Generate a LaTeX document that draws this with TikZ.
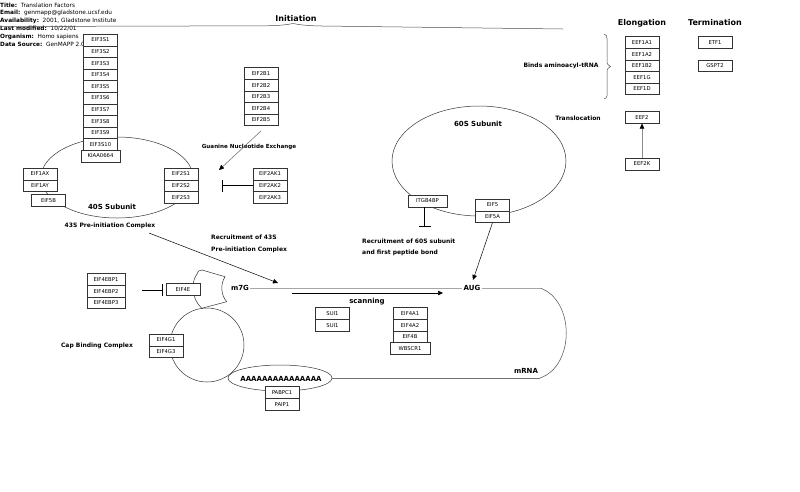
\documentclass[tikz,border=0pt]{standalone}
\usepackage{fontspec}
\setmainfont{DejaVu Sans}
\usetikzlibrary{arrows.meta}
\begin{document}
\begin{tikzpicture}[x=1pt,y=-1pt,
  gene/.style={draw=black!80, fill=white, line width=0.5pt, minimum width=34pt, minimum height=11.6pt, inner sep=0pt, font=\fontsize{5.3}{6}\selectfont},
  wgene/.style={gene, minimum width=39pt},
  lbl/.style={font=\bfseries\fontsize{6}{7}\selectfont, inner sep=0pt},
  mlbl/.style={font=\bfseries\fontsize{7}{8}\selectfont, inner sep=0pt},
  big/.style={font=\bfseries\fontsize{8}{9}\selectfont, inner sep=0pt},
  hdr/.style={font=\fontsize{5.8}{6.5}\selectfont, inner sep=0pt, anchor=west},
  ln/.style={line width=0.5pt},
  arr/.style={line width=0.5pt, -{Triangle[length=5pt,width=4.5pt,color=black]}},
  inh/.style={line width=0.5pt, -{Bar[width=12pt,line width=0.7pt]}},
]
\useasboundingbox (0,0) rectangle (800,491);

% header
\begin{scope}
\clip (0,0) rectangle (117,50);
\node[hdr] (title) at (0,5) {\textbf{Title:}\ \ Translation Factors};
\node[hdr] (email) at (0,13) {\textbf{Email:}\ \ genmapp@gladstone.ucsf.edu};
\node[hdr] (avail) at (0,21) {\textbf{Availability:}\ \ 2001, Gladstone Institute};
\node[hdr] (lastmod) at (0,29) {\textbf{Last modified:}\ \ 10/22/01};
\node[hdr] (organism) at (0,37) {\textbf{Organism:}\ \ Homo sapiens};
\node[hdr] (datasrc) at (0,44) {\textbf{Data Source:}\ \ GenMAPP 2.0};
\end{scope}

% section headings and braces
\node[big] (initiation) at (296,19) {Initiation};
\node[big] (elongation) at (642,23) {Elongation};
\node[big] (termination) at (715,23) {Termination};
\draw[ln, black!70] (0,26.5) -- (263,25.8) .. controls (280,25.8) and (288,24.5) .. (293,23.5)
  .. controls (298,24.5) and (306,25.8) .. (322,26) -- (563,29);
\draw[ln, black!70] (604,34) .. controls (608,35) and (607,40) .. (607,48) -- (607,60)
  .. controls (607,64) .. (610.5,66.5) .. controls (607,69) .. (607,73) -- (607,87)
  .. controls (607,95) and (608,98) .. (604,99);

% shapes
\draw[ln, black!80] (117,177.5) ellipse [x radius=76, y radius=40.5];
\draw[ln, black!80] (479,161) ellipse [x radius=87, y radius=55];
\draw[ln, black!80] (207,345) circle [radius=37];
\draw[ln, black!80] (280,378) ellipse [x radius=52, y radius=13];
\draw[ln, black!80] (201.7,308.3) .. controls (191,298) and (191,282) .. (197,274)
  .. controls (198,271) .. (202,270) -- (225,276.7)
  .. controls (220,285) and (221,295) .. (226.7,301.7) -- cycle;

% mRNA
\node[mlbl, fill=white, inner sep=1pt] (m7G) at (240,288) {m7G};
\node[mlbl, fill=white, inner sep=1pt] (AUG) at (472,288) {AUG};
\coordinate (mr1) at (540,288);
\coordinate (mr2) at (540,378);
\draw[ln, black!35] (m7G.east) -- (AUG.west);
\draw[ln, black!35] (AUG.east) -- (mr1);
\draw[ln, black!70] (mr1) .. controls (575,300) and (575,366) .. (mr2);
\draw[ln, black!55] (mr2) -- (332,378);
\node[mlbl] (mRNA) at (526,371) {mRNA};
\node[mlbl] (polyA) at (281,379) {AAAAAAAAAAAAAAA};

% EIF3 stack
\foreach \n [count=\i] in {EIF3S1,EIF3S2,EIF3S3,EIF3S4,EIF3S5,EIF3S6,EIF3S7,EIF3S8,EIF3S9,EIF3S10}
  \node[gene] (\n) at (100.5,28.4+11.6*\i) {\n};
\node[wgene] (KIAA0664) at (100.5,156) {KIAA0664};

% EIF2B stack
\foreach \n [count=\i] in {EIF2B1,EIF2B2,EIF2B3,EIF2B4,EIF2B5}
  \node[gene] (\n) at (261,61.9+11.6*\i) {\n};

\node[gene] (EIF1AX) at (40,174) {EIF1AX};
\node[gene] (EIF1AY) at (40,185.6) {EIF1AY};
\node[gene] (EIF5B) at (48.5,200.5) {EIF5B};

\foreach \n [count=\i] in {EIF2S1,EIF2S2,EIF2S3}
  \node[gene] (\n) at (181,162.4+11.6*\i) {\n};
\foreach \n [count=\i] in {EIF2AK1,EIF2AK2,EIF2AK3}
  \node[gene] (\n) at (270,162.4+11.6*\i) {\n};

\foreach \n [count=\i] in {EEF1A1,EEF1A2,EEF1B2,EEF1G,EEF1D}
  \node[gene] (\n) at (642,30.9+11.6*\i) {\n};
\node[gene] (ETF1) at (715,42.5) {ETF1};
\node[gene] (GSPT2) at (715,65.7) {GSPT2};
\node[gene] (EEF2) at (642,117.5) {EEF2};
\node[gene] (EEF2K) at (642,164) {EEF2K};

\node[wgene] (ITGB4BP) at (427.5,201) {ITGB4BP};
\node[gene] (EIF5) at (492.5,205) {EIF5};
\node[gene] (EIF5A) at (492.5,216.6) {EIF5A};

\foreach \n [count=\i] in {EIF4EBP1,EIF4EBP2,EIF4EBP3}
  \node[gene, minimum width=38pt] (\n) at (106,267.9+11.6*\i) {\n};
\node[gene] (EIF4E) at (183,289.5) {EIF4E};
\node[gene] (EIF4G1) at (166,340) {EIF4G1};
\node[gene] (EIF4G3) at (166,351.6) {EIF4G3};

\node[gene] (SUI1a) at (332.5,313.5) {SUI1};
\node[gene] (SUI1b) at (332.5,325.1) {SUI1};
\node[gene] (EIF4A1) at (410,313.5) {EIF4A1};
\node[gene] (EIF4A2) at (410,325.1) {EIF4A2};
\node[gene] (EIF4B) at (410,336.7) {EIF4B};
\node[gene, minimum width=40pt] (WBSCR1) at (410,348.3) {WBSCR1};
\node[gene] (PABPC1) at (282,392.5) {PABPC1};
\node[gene] (PAIP1) at (282,404.1) {PAIP1};

% labels
\node[lbl] (binds) at (561,66) {Binds aminoacyl-tRNA};
\node[lbl] (transloc) at (578,118) {Translocation};
\node[lbl, font=\bfseries\fontsize{5.6}{7}\selectfont] (gne) at (249,147) {Guanine Nucleotide Exchange};
\node[mlbl] (s40) at (112,207) {40S Subunit};
\node[lbl] (c43) at (110,226) {43S Pre-initiation Complex};
\node[mlbl] (s60) at (478,124) {60S Subunit};
\node[lbl, anchor=west] (rec60a) at (362,241) {Recruitment of 60S subunit};
\node[lbl, anchor=west] (rec60b) at (362,253) {and first peptide bond};
\node[lbl, anchor=west] (rec43a) at (211,237) {Recruitment of 43S};
\node[lbl, anchor=west] (rec43b) at (211,250) {Pre-initiation Complex};
\node[mlbl] (scanning) at (367,302) {scanning};
\node[lbl] (capbind) at (97,346) {Cap Binding Complex};

% connectors
\coordinate (gnxTip) at (219,170);
\draw[arr, draw=black!60] ([yshift=-5pt]EIF2B5.south) -- (gnxTip);
\coordinate (akBar) at (222,185.6);
\draw[inh] (EIF2AK2.west) -- (akBar);
\coordinate (c43start) at (149,233);
\coordinate (c43tip) at (278,283);
\draw[arr] (c43start) -- (c43tip);
\coordinate (augTip) at (473,280);
\draw[arr] (EIF5A.south) -- (augTip);
\coordinate (scanA) at (292,293);
\coordinate (scanB) at (443,293);
\draw[arr] (scanA) -- (scanB);
\draw[arr, draw=black!45] (EEF2K.north) -- (EEF2.south);
\coordinate (itgStart) at (424.5,207);
\coordinate (itgBar) at (424.5,227);
\draw[inh] (itgStart) -- (itgBar);
\coordinate (bpStart) at (142,290);
\coordinate (bpBar) at (163,290);
\draw[inh] (bpStart) -- (bpBar);
\end{tikzpicture}
\end{document}
